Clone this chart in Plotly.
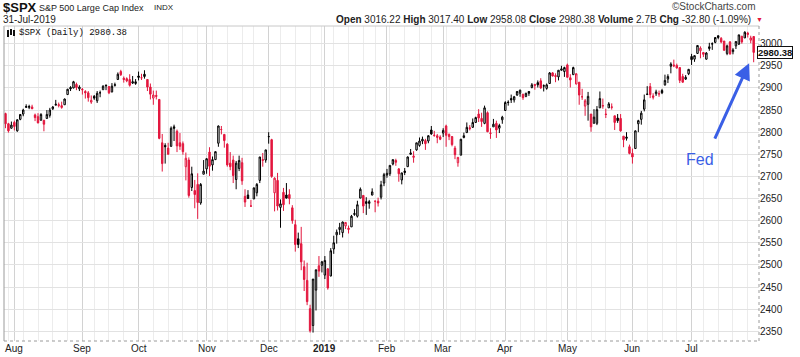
import pandas as pd
import plotly.graph_objects as go

# ---- trading calendar (NYSE holidays in range) ----
holidays = ["2018-09-03", "2018-11-22", "2018-12-05", "2018-12-25", "2019-01-01",
            "2019-01-21", "2019-02-18", "2019-04-19", "2019-05-27", "2019-07-04"]
dates = pd.bdate_range("2018-07-27", "2019-07-31", freq="C", holidays=holidays)

prev_close = 2837.4  # close before first bar (Jul 26 2018)

# ---- OHLC (one line per month) ----
opens = [
    2842, 2819, 2809,
    2822, 2803, 2829, 2841, 2856, 2856, 2857, 2839, 2835, 2827, 2827, 2831, 2838, 2853, 2861, 2860, 2860, 2862, 2885, 2901, 2900, 2908, 2898,
    2897, 2892, 2889, 2868, 2881, 2871, 2889, 2896, 2906, 2903, 2891, 2906, 2919, 2937, 2922, 2921, 2919, 2911, 2910,
    2927, 2923, 2931, 2919, 2902, 2877, 2883, 2874, 2776, 2770, 2764, 2768, 2812, 2802, 2776, 2774, 2722, 2737, 2675, 2668, 2682, 2640, 2705,
    2717, 2755, 2726, 2738, 2775, 2806, 2795, 2773, 2730, 2737, 2693, 2718, 2731, 2655, 2658, 2633, 2649, 2663, 2691, 2736, 2737,
    2790, 2783, 2663, 2691, 2630, 2664, 2658, 2659, 2629, 2591, 2559, 2548, 2496, 2465, 2401, 2363, 2443, 2498, 2499,
    2477, 2491, 2475, 2536, 2568, 2580, 2573, 2588, 2580, 2586, 2614, 2610, 2651, 2657, 2643, 2639, 2658, 2644, 2644, 2653, 2685,
    2703, 2706, 2728, 2736, 2717, 2692, 2712, 2722, 2750, 2743, 2760, 2770, 2780, 2781, 2780, 2805, 2792, 2788, 2789,
    2798, 2814, 2795, 2790, 2764, 2731, 2748, 2788, 2799, 2810, 2811, 2822, 2841, 2831, 2820, 2844, 2797, 2812, 2820, 2809, 2828,
    2849, 2868, 2876, 2873, 2884, 2888, 2886, 2881, 2892, 2901, 2908, 2912, 2916, 2904, 2899, 2910, 2934, 2928, 2925, 2940, 2937,
    2952, 2923, 2930, 2909, 2913, 2880, 2859, 2863, 2841, 2820, 2820, 2855, 2859, 2841, 2855, 2856, 2837, 2832, 2831, 2791, 2786, 2767,
    2752, 2763, 2819, 2829, 2852, 2885, 2903, 2882, 2887, 2886, 2894, 2907, 2920, 2949, 2952, 2951, 2946, 2926, 2920, 2932,
    2971, 2965, 2978, 2984, 2980, 2965, 2989, 2999, 3003, 3018, 3012, 3006, 2978, 3004, 2982, 2995, 2999, 3017, 3013, 3024, 3008, 3016.22,
]
highs = [
    2844, 2821, 2824,
    2826, 2829, 2841, 2853, 2863, 2862, 2862, 2842, 2843, 2843, 2827, 2850, 2855, 2859, 2873, 2867, 2869, 2876, 2898, 2904, 2916, 2912, 2906,
    2900, 2895, 2893, 2883, 2884, 2893, 2894, 2906, 2908, 2904, 2911, 2912, 2935, 2941, 2926, 2924, 2931, 2927, 2920,
    2937, 2932, 2940, 2920, 2910, 2894, 2894, 2875, 2796, 2775, 2776, 2813, 2817, 2806, 2798, 2779, 2754, 2743, 2722, 2692, 2707, 2685, 2737,
    2741, 2766, 2745, 2756, 2815, 2814, 2795, 2775, 2755, 2747, 2735, 2747, 2742, 2671, 2669, 2647, 2675, 2685, 2744, 2753, 2760,
    2800, 2785, 2698, 2708, 2648, 2674, 2685, 2671, 2635, 2602, 2573, 2586, 2510, 2505, 2410, 2467, 2489, 2520, 2509,
    2520, 2493, 2538, 2566, 2580, 2595, 2598, 2597, 2589, 2613, 2626, 2645, 2675, 2657, 2653, 2647, 2673, 2645, 2652, 2690, 2708,
    2717, 2725, 2738, 2740, 2719, 2708, 2719, 2745, 2762, 2757, 2776, 2788, 2790, 2785, 2793, 2814, 2803, 2796, 2793,
    2809, 2817, 2797, 2791, 2769, 2744, 2785, 2799, 2822, 2816, 2831, 2835, 2852, 2844, 2860, 2847, 2809, 2830, 2826, 2819, 2837,
    2870, 2872, 2885, 2882, 2893, 2896, 2886, 2889, 2893, 2911, 2909, 2917, 2922, 2908, 2910, 2936, 2936, 2933, 2940, 2950, 2948,
    2955, 2931, 2948, 2933, 2913, 2898, 2875, 2891, 2841, 2852, 2859, 2892, 2876, 2853, 2868, 2865, 2837, 2841, 2841, 2791, 2800, 2772,
    2763, 2804, 2828, 2848, 2885, 2904, 2911, 2888, 2896, 2894, 2898, 2930, 2931, 2958, 2964, 2955, 2947, 2932, 2929, 2943,
    2977, 2973, 2996, 2994, 2981, 2981, 3002, 3003, 3014, 3018, 3015, 3006, 2998, 3006, 2990, 3005, 3020, 3017, 3028, 3027, 3018, 3017.40,
]
lows = [
    2809, 2799, 2808,
    2804, 2801, 2827, 2836, 2855, 2852, 2852, 2825, 2820, 2826, 2802, 2831, 2833, 2850, 2861, 2856, 2853, 2862, 2885, 2893, 2899, 2895, 2893,
    2885, 2876, 2869, 2864, 2873, 2866, 2879, 2896, 2895, 2886, 2890, 2903, 2919, 2927, 2912, 2913, 2903, 2909, 2907,
    2917, 2918, 2921, 2893, 2874, 2862, 2874, 2784, 2711, 2729, 2750, 2767, 2780, 2755, 2760, 2749, 2691, 2652, 2667, 2628, 2604, 2636, 2705,
    2706, 2701, 2713, 2737, 2767, 2795, 2765, 2722, 2714, 2685, 2671, 2712, 2681, 2631, 2649, 2631, 2649, 2655, 2685, 2722, 2731,
    2774, 2697, 2621, 2623, 2584, 2622, 2650, 2637, 2593, 2530, 2538, 2488, 2441, 2409, 2347, 2347, 2397, 2473, 2483,
    2468, 2444, 2474, 2525, 2548, 2568, 2562, 2581, 2571, 2586, 2611, 2607, 2651, 2617, 2613, 2627, 2657, 2619, 2632, 2648, 2678,
    2697, 2701, 2725, 2724, 2688, 2682, 2703, 2722, 2749, 2731, 2758, 2767, 2773, 2760, 2775, 2794, 2790, 2775, 2782,
    2789, 2767, 2782, 2768, 2739, 2722, 2748, 2786, 2799, 2804, 2810, 2821, 2823, 2812, 2818, 2800, 2785, 2812, 2787, 2798, 2819,
    2849, 2860, 2866, 2867, 2882, 2880, 2873, 2879, 2882, 2899, 2896, 2901, 2898, 2892, 2896, 2909, 2926, 2913, 2917, 2939, 2925,
    2924, 2901, 2930, 2908, 2862, 2873, 2837, 2826, 2801, 2820, 2816, 2855, 2853, 2832, 2855, 2851, 2805, 2821, 2801, 2766, 2781, 2750,
    2729, 2763, 2800, 2817, 2847, 2884, 2877, 2874, 2882, 2880, 2886, 2905, 2911, 2933, 2947, 2944, 2911, 2912, 2918, 2929,
    2952, 2959, 2977, 2967, 2970, 2964, 2984, 2986, 3001, 3010, 3001, 2985, 2974, 2975, 2976, 2988, 2997, 3000, 3013, 3014, 3001, 2958.08,
]
closes = [
    2819, 2803, 2816,
    2813, 2828, 2840, 2850, 2858, 2858, 2853, 2833, 2821, 2840, 2818, 2840, 2850, 2857, 2863, 2862, 2856, 2875, 2897, 2898, 2914, 2901, 2902,
    2896, 2889, 2878, 2872, 2877, 2888, 2889, 2904, 2905, 2889, 2904, 2907, 2931, 2930, 2919, 2916, 2906, 2914, 2914,
    2924, 2923, 2926, 2902, 2886, 2884, 2881, 2786, 2729, 2767, 2750, 2809, 2809, 2769, 2768, 2756, 2741, 2657, 2706, 2659, 2641, 2682, 2712,
    2740, 2723, 2738, 2756, 2814, 2806, 2781, 2726, 2722, 2702, 2730, 2736, 2690, 2642, 2650, 2633, 2674, 2682, 2744, 2738, 2760,
    2790, 2700, 2696, 2633, 2638, 2636, 2651, 2650, 2600, 2546, 2546, 2507, 2467, 2417, 2351, 2468, 2489, 2486, 2507,
    2510, 2448, 2532, 2550, 2574, 2585, 2597, 2596, 2583, 2610, 2616, 2636, 2671, 2633, 2639, 2643, 2665, 2644, 2640, 2681, 2704,
    2707, 2725, 2738, 2732, 2706, 2708, 2709, 2744, 2753, 2746, 2776, 2780, 2784, 2774, 2792, 2796, 2793, 2792, 2784,
    2804, 2793, 2790, 2772, 2749, 2743, 2784, 2792, 2811, 2808, 2822, 2833, 2832, 2824, 2855, 2801, 2798, 2818, 2805, 2815, 2834,
    2867, 2867, 2873, 2880, 2892, 2895, 2878, 2888, 2888, 2907, 2906, 2907, 2900, 2905, 2907, 2934, 2927, 2926, 2940, 2943, 2946,
    2924, 2918, 2946, 2932, 2884, 2880, 2871, 2881, 2812, 2834, 2851, 2876, 2860, 2840, 2864, 2857, 2822, 2826, 2803, 2783, 2789, 2752,
    2744, 2803, 2826, 2843, 2873, 2886, 2885, 2879, 2891, 2887, 2889, 2917, 2926, 2954, 2950, 2945, 2917, 2913, 2924, 2942,
    2964, 2973, 2996, 2990, 2976, 2979, 2993, 3000, 3014, 3014, 3004, 2985, 2995, 2977, 2986, 3005, 3020, 3004, 3026, 3021, 3013, 2980.38,
]

months = ["Aug", "Sep", "Oct", "Nov", "Dec", "<b>2019</b>", "Feb", "Mar", "Apr", "May", "Jun", "Jul"]
ytick_vals = list(range(2350, 3001, 50))
last_label = "2980.38"

assert len(dates) == len(opens) == len(highs) == len(lows) == len(closes), (
    len(dates), len(opens), len(highs), len(lows), len(closes))

RED = "#e3173e"
BLUE = "#3a5fe6"
xs = list(range(len(dates)))

# split by close vs previous close (StockCharts colouring)
pc = [prev_close] + closes[:-1]
up_idx = [i for i in xs if closes[i] >= pc[i]]
dn_idx = [i for i in xs if closes[i] < pc[i]]


def sub(idx):
    return dict(x=[xs[i] for i in idx], open=[opens[i] for i in idx], high=[highs[i] for i in idx],
                low=[lows[i] for i in idx], close=[closes[i] for i in idx])


fig = go.Figure()
fig.add_trace(go.Candlestick(**sub(up_idx),
                             increasing=dict(line=dict(color="black", width=1), fillcolor="white"),
                             decreasing=dict(line=dict(color="black", width=1), fillcolor="black"),
                             whiskerwidth=0, showlegend=False, hoverinfo="skip"))
fig.add_trace(go.Candlestick(**sub(dn_idx),
                             increasing=dict(line=dict(color=RED, width=1), fillcolor="white"),
                             decreasing=dict(line=dict(color=RED, width=1), fillcolor=RED),
                             whiskerwidth=0, showlegend=False, hoverinfo="skip"))

# month starts and week starts
month_pos, week_pos = [], []
for i, d in enumerate(dates):
    if i == 0:
        continue
    if d.month != dates[i - 1].month:
        month_pos.append(i)
    if d.isocalendar()[1] != dates[i - 1].isocalendar()[1]:
        week_pos.append(i)

L, R, T, B = 4, 759, 26, 341
W, H = 800, 357


def px(x, y):
    return (x - L) / (R - L), (B - y) / (B - T)


fig.update_layout(
    width=W, height=H, margin=dict(l=L, r=W - R, t=T, b=H - B),
    paper_bgcolor="white", plot_bgcolor="white",
    font=dict(family="Arial, Liberation Sans, sans-serif", size=10, color="#222"),
    xaxis=dict(range=[-0.5, 254.8], rangeslider=dict(visible=False), tickmode="array",
               tickvals=month_pos, showticklabels=False, showgrid=True,
               gridcolor="#d2d2d2", gridwidth=1, ticks="", zeroline=False,
               minor=dict(tickmode="array", tickvals=week_pos, showgrid=True, gridcolor="#ececec", gridwidth=1)),
    yaxis=dict(range=[2328, 3040], side="right", tickmode="array", tickvals=ytick_vals,
               ticktext=[str(v) for v in ytick_vals], showgrid=True, gridcolor="#e2e2e2",
               zeroline=False, ticks="", tickfont=dict(size=10, color="#222"), automargin=False),
)

# plot frame
fig.add_shape(type="line", xref="paper", yref="paper", x0=0, x1=0, y0=0, y1=1, line=dict(color="#9a9a9a", width=1))
fig.add_shape(type="line", xref="paper", yref="paper", x0=0, x1=1, y0=1, y1=1, line=dict(color="#c8c8c8", width=1))
fig.add_shape(type="line", xref="paper", yref="paper", x0=0, x1=1, y0=0, y1=0, line=dict(color="#9a9a9a", width=1, dash="dot"))
fig.add_shape(type="line", xref="paper", yref="paper", x0=1, x1=1, y0=0, y1=1, line=dict(color="#9a9a9a", width=1, dash="dot"))

ann = []


def text(x, y, s, size=11, color="#222", anchor="left", family=None, yanchor="middle"):
    ax, ay = px(x, y)
    f = dict(size=size, color=color)
    if family:
        f["family"] = family
    ann.append(dict(xref="paper", yref="paper", x=ax, y=ay, text=s, showarrow=False,
                    xanchor=anchor, yanchor=yanchor, font=f))


# month labels under the axis
for pos, lab in zip(month_pos, months):
    ann.append(dict(xref="x", yref="paper", x=pos, y=px(0, 348)[1], text=lab, showarrow=False,
                    xanchor="center", yanchor="middle", font=dict(size=10, color="#222")))

text(1, 8, "<b>$SPX</b>", size=13, color="#111")
text(37, 8, "S&P 500 Large Cap Index", size=9)
text(152, 8, "INDX", size=8)
text(1, 19, "31-Jul-2019", size=10)
text(758, 7, "©StockCharts.com", size=10, color="#444", anchor="right")
text(753, 19, "<b>Open</b> 3016.22 <b>High</b> 3017.40 <b>Low</b> 2958.08 <b>Close</b> 2980.38 "
              "<b>Volume</b> 2.7B <b>Chg</b> -32.80 (-1.09%)", size=10, anchor="right")
text(754, 19, "▼", size=7, color=RED)
text(17, 33, "$SPX (Daily) 2980.38", size=9, family="Liberation Mono, monospace", color="#111")
text(700, 159, "Fed", size=16, color=BLUE, anchor="center")

# small legend icon (mini candles)
for (x0, y0, x1, y1, c) in [(7, 30, 9, 37, "#111"), (10, 29, 12, 35, "#111"), (13, 30, 15, 36, "#111")]:
    a0, b0 = px(x0, y0)
    a1, b1 = px(x1, y1)
    fig.add_shape(type="rect", xref="paper", yref="paper", x0=a0, x1=a1, y0=b1, y1=b0,
                  line=dict(width=0), fillcolor=c)

# last price box
ann.append(dict(xref="paper", yref="y", x=(757 - L) / (R - L), y=closes[-1], text="<b>" + last_label + "</b>",
                showarrow=False, xanchor="left", yanchor="middle", bgcolor="white",
                bordercolor="#111", borderwidth=1, borderpad=0, font=dict(size=9.5, color="#111")))

# Fed arrow
hx = (749 - 14.3) / 2.957 + 3
hy = 3000 - (63 - 43.5) / 0.4425
ann.append(dict(x=hx, y=hy, xref="x", yref="y", ax=-35, ay=77, showarrow=True, arrowhead=2,
                arrowsize=1.1, arrowwidth=3, arrowcolor=BLUE, text=""))

fig.update_layout(annotations=ann)
fig.write_html("out.html", config={"displayModeBar": False},
               post_script="document.body.style.margin='0';document.body.style.padding='0';")
